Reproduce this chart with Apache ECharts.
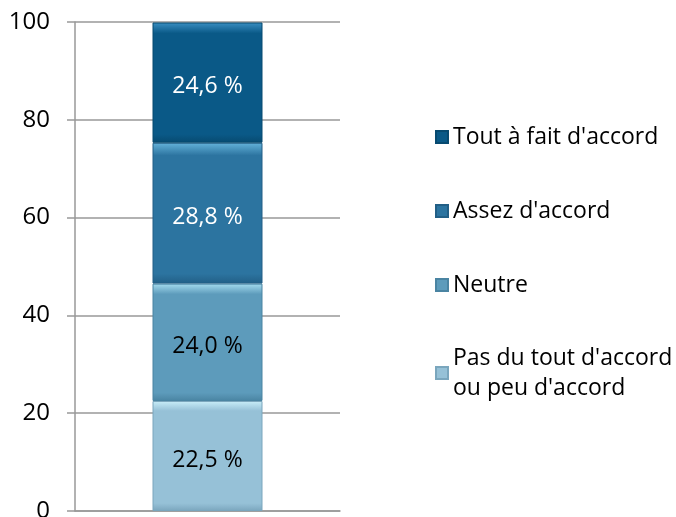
<!DOCTYPE html>
<html>
<head>
<meta charset="utf-8">
<script src="https://cdn.jsdelivr.net/npm/echarts@6/dist/echarts.min.js"></script>
<style>
  html, body { margin: 0; padding: 0; background: #fff; }
  #chart { width: 676px; height: 517px; }
</style>
</head>
<body>
<div id="chart"></div>
<script>
// data
var categories = [''];
var seriesNames = ["Pas du tout d'accord\nou peu d'accord", 'Neutre', "Assez d'accord", "Tout à fait d'accord"];
var pasDuTout = [22.5];
var neutre = [24.0];
var assez = [28.8];
var toutAFait = [24.6];
var yTicks = [0, 20, 40, 60, 80, 100];

var values = [pasDuTout, neutre, assez, toutAFait];
var baseColors = ['#96c1d7', '#5d9bbb', '#2c74a0', '#0a5987'];
var lightColors = ['#c9eef9', '#a6dcef', '#64b2da', '#3a8fc2'];
var darkColors = ['#7aa6bd', '#4a84a2', '#225f86', '#074a70'];
var labelColors = ['#000', '#000', '#fff', '#fff'];

var chart = echarts.init(document.getElementById('chart'));

function fill(i) {
    return new echarts.graphic.LinearGradient(0, 0, 0, 1, [
        {offset: 0, color: lightColors[i]},
        {offset: 0.09, color: baseColors[i]},
        {offset: 0.93, color: baseColors[i]},
        {offset: 1, color: darkColors[i]}
    ]);
}

var series = [];
for (var i = 0; i < values.length; i++) {
    series.push({
        name: seriesNames[i],
        type: 'bar',
        stack: 'total',
        barWidth: 110,
        data: values[i],
        itemStyle: {
            color: fill(i),
            borderColor: darkColors[i],
            borderWidth: 1
        },
        label: {
            show: true,
            position: 'inside',
            offset: [0, 4],
            color: labelColors[i],
            fontFamily: 'Open Sans',
            fontSize: 23,
            formatter: function (p) {
                return p.value.toFixed(1).replace('.', ',') + ' %';
            }
        }
    });
}

var legendText = {
    color: '#000',
    fontFamily: 'Open Sans',
    fontSize: 23,
    lineHeight: 30
};

var option = {
    animation: false,
    color: baseColors,
    grid: {left: 75, right: 336, top: 22, bottom: 6, outerBoundsMode: 'none'},
    legend: [
        {
            orient: 'vertical',
            left: 430,
            top: 117,
            itemWidth: 12,
            itemHeight: 12,
            itemGap: 44,
            icon: 'rect',
            textStyle: legendText,
            data: [seriesNames[3], seriesNames[2], seriesNames[1]]
        },
        {
            orient: 'vertical',
            left: 430,
            top: 323,
            itemWidth: 12,
            itemHeight: 12,
            icon: 'rect',
            textStyle: Object.assign({}, legendText, {padding: [30, 0, 0, 0]}),
            data: [seriesNames[0]]
        }
    ],
    xAxis: {
        type: 'category',
        data: categories,
        axisLine: {show: true, lineStyle: {color: '#999', width: 1.5}},
        axisTick: {show: false},
        axisLabel: {show: false}
    },
    yAxis: {
        type: 'value',
        min: yTicks[0],
        max: yTicks[yTicks.length - 1],
        interval: 20,
        axisLine: {show: true, lineStyle: {color: '#999', width: 1.5}},
        axisTick: {show: true, length: 8, lineStyle: {color: '#999', width: 1.5}},
        axisLabel: {
            color: '#000',
            fontFamily: 'Open Sans',
            fontSize: 24,
            margin: 25
        },
        splitLine: {lineStyle: {color: '#999', width: 1.5}}
    },
    series: series
};

chart.setOption(option);
</script>
</body>
</html>
